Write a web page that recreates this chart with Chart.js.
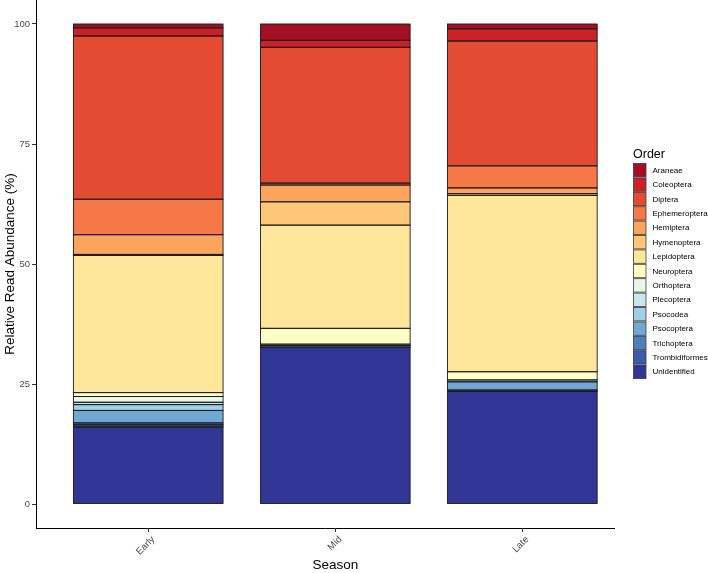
<!DOCTYPE html>
<html>
<head>
<meta charset="utf-8">
<script src="https://cdn.jsdelivr.net/npm/chart.js@4.4.1/dist/chart.umd.min.js"></script>
<style>
html,body{margin:0;padding:0;background:#fff;}
#wrap{position:relative;width:708px;height:573px;}
</style>
</head>
<body>
<div id="wrap"><canvas id="c" width="708" height="573"></canvas></div>
<script>
const seasons = ['Early', 'Mid', 'Late'];
const orders = ['Araneae','Coleoptera','Diptera','Ephemeroptera','Hemiptera','Hymenoptera','Lepidoptera','Neuroptera','Orthoptera','Plecoptera','Psocodea','Psocoptera','Trichoptera','Trombidiformes','Unidentified'];
const colors = ['#A50F26','#CA2128','#E34B33','#F57846','#FBA45C','#FDC777','#FEE79B','#FFFFC5','#E9F6E6','#C8E6F0','#A0CFE3','#70A8D1','#4C80BC','#3B5CA8','#313695'];
// values per season, same order as `orders`
const early = [0.8, 1.7, 34.0, 7.4, 4.1, 0.2, 28.6, 0.8, 1.2, 0.5, 1.2, 2.6, 0.4, 0.45, 16.05];
const mid   = [3.4, 1.45, 28.3, 0.4, 3.5, 4.85, 21.5, 3.3, 0.3, 0, 0, 0.3, 0, 0, 32.7];
const late  = [1.0, 2.55, 26.0, 4.6, 1.2, 0.35, 36.75, 1.7, 0, 0, 0.4, 1.7, 0, 0.3, 23.45];
const yTicks = [0, 25, 50, 75, 100];

const seasonValues = [early, mid, late];
const FONT = '"Liberation Sans", Arial, sans-serif';

// datasets stacked from bottom (Unidentified) to top (Araneae)
const datasets = [];
for (let i = orders.length - 1; i >= 0; i--) {
  datasets.push({
    label: orders[i],
    data: seasonValues.map((vals, s) => ({ x: s + 1, y: vals[i] > 0 ? vals[i] : null })),
    backgroundColor: colors[i],
    borderWidth: 0,
    barPercentage: 0.8,
    categoryPercentage: 1.0
  });
}

const extrasPlugin = {
  id: 'extras',
  afterDatasetsDraw(chart) {
    // outline each bar segment with a crisp thin dark line
    const ctx = chart.ctx;
    ctx.save();
    ctx.strokeStyle = '#1a1a1a';
    ctx.lineWidth = 0.9;
    chart.data.datasets.forEach((ds, di) => {
      const meta = chart.getDatasetMeta(di);
      meta.data.forEach((el, k) => {
        if (ds.data[k].y == null) return;
        const p = el.getProps(['x', 'y', 'base', 'width'], true);
        const l = p.x - p.width / 2, r = p.x + p.width / 2;
        const t = Math.min(p.y, p.base), b = Math.max(p.y, p.base);
        ctx.strokeRect(l, t, r - l, b - t);
      });
    });
    ctx.restore();
  },
  afterDraw(chart) {
    const ctx = chart.ctx;
    const xs = chart.scales.x;
    const area = chart.chartArea;
    ctx.save();
    // x tick marks
    ctx.strokeStyle = '#333';
    ctx.lineWidth = 1;
    seasons.forEach((s, i) => {
      const px = Math.round(xs.getPixelForValue(i + 1)) + 0.5;
      ctx.beginPath();
      ctx.moveTo(px, area.bottom);
      ctx.lineTo(px, area.bottom + 4);
      ctx.stroke();
    });
    // x axis title, centred under the middle category
    ctx.fillStyle = '#000';
    ctx.font = '13.5px ' + FONT;
    ctx.textAlign = 'center';
    ctx.textBaseline = 'middle';
    ctx.fillText('Season', xs.getPixelForValue(2), 565);
    // legend
    ctx.font = '12.5px ' + FONT;
    ctx.textAlign = 'left';
    ctx.textBaseline = 'alphabetic';
    ctx.fillText('Order', 633, 158);
    ctx.font = '8px ' + FONT;
    ctx.textBaseline = 'middle';
    const top = 163.5, step = 14.4;
    orders.forEach((o, i) => {
      const y = top + i * step;
      ctx.fillStyle = colors[i];
      ctx.fillRect(633.5, y, 12.5, 13.4);
      ctx.strokeStyle = '#3a3a3a';
      ctx.lineWidth = 0.8;
      ctx.strokeRect(633.5, y, 12.5, 13.4);
      ctx.fillStyle = '#000';
      ctx.fillText(o, 652.5, y + 7);
    });
    ctx.restore();
  }
};

function noPad(scale) {
  scale.paddingTop = 0; scale.paddingBottom = 0;
  scale.paddingLeft = 0; scale.paddingRight = 0;
}

new Chart(document.getElementById('c'), {
  type: 'bar',
  data: { datasets },
  options: {
    responsive: false,
    animation: false,
    layout: { padding: { left: 0, right: 94, top: 0, bottom: 0 } },
    plugins: { legend: { display: false }, tooltip: { enabled: false } },
    scales: {
      x: {
        type: 'linear',
        stacked: true,
        offset: false,
        min: 0.4,
        max: 3.49,
        afterBuildTicks(scale) { scale.ticks = seasons.map((s, i) => ({ value: i + 1 })); },
        afterFit(scale) { scale.height = 45; noPad(scale); },
        ticks: {
          callback: (v) => seasons[Math.round(v) - 1] || '',
          minRotation: 45,
          maxRotation: 45,
          color: '#4d4d4d',
          font: { family: FONT, size: 9.5 },
          padding: 6,
          labelOffset: 5,
          autoSkip: false
        },
        grid: { display: true, drawOnChartArea: false, drawTicks: false, color: '#333', lineWidth: 1 },
        border: { display: true, color: '#000', width: 1 },
        title: { display: false }
      },
      y: {
        type: 'linear',
        stacked: true,
        min: -5,
        max: 105,
        afterBuildTicks(scale) { scale.ticks = yTicks.map(v => ({ value: v })); },
        afterFit(scale) { scale.width = 36; noPad(scale); },
        ticks: {
          color: '#4d4d4d',
          font: { family: FONT, size: 9.5 },
          padding: 2
        },
        grid: { drawOnChartArea: false, drawTicks: true, tickLength: 4, color: '#333', lineWidth: 1 },
        border: { display: true, color: '#000', width: 1 },
        title: { display: true, text: 'Relative Read Abundance (%)', color: '#000', font: { family: FONT, size: 13.5 }, padding: { top: 2, bottom: 0 } }
      }
    }
  },
  plugins: [extrasPlugin]
});
</script>
</body>
</html>
